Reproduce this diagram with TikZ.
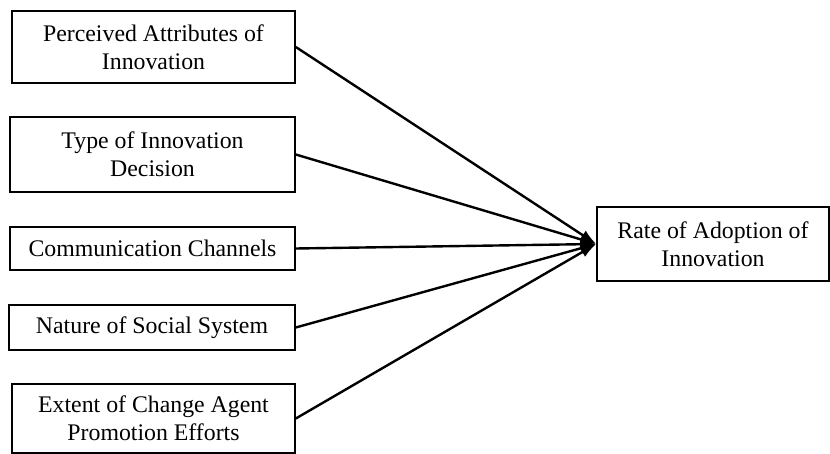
\documentclass[tikz,border=0pt]{standalone}
\usepackage{fontspec}
\setmainfont{Liberation Serif}
\usetikzlibrary{arrows.meta}
\begin{document}
\begin{tikzpicture}[x=1pt,y=-1pt,
  box/.style={draw,line width=1.6pt,inner sep=0pt,align=center,font=\fontsize{23.8}{28}\selectfont},
  conn/.style={line width=2.4pt,-{Latex[length=16pt,width=11pt]}}]
\useasboundingbox[fill=white] (0,0) rectangle (830,454);
\node[box,minimum width=283pt,minimum height=72pt] (a) at (153.5,47) {Perceived Attributes of\\Innovation};
\node[box,minimum width=285pt,minimum height=75pt] (b) at (152.5,154.5) {Type of Innovation\\Decision};
\node[box,minimum width=285pt,minimum height=43pt] (c) at (152.5,248.5) {Communication Channels};
\node[box,minimum width=286pt,minimum height=45pt] (d) at (152,327.5) {Nature of Social System};
\node[box,minimum width=283pt,minimum height=69pt] (e) at (153.5,418.5) {Extent of Change Agent\\Promotion Efforts};
\node[box,minimum width=232pt,minimum height=74pt] (r) at (713,244) {Rate of Adoption of\\Innovation};
\foreach \s in {a,b,c,d,e}
  \draw[conn] (\s.east) -- (r.west);
\end{tikzpicture}
\end{document}
